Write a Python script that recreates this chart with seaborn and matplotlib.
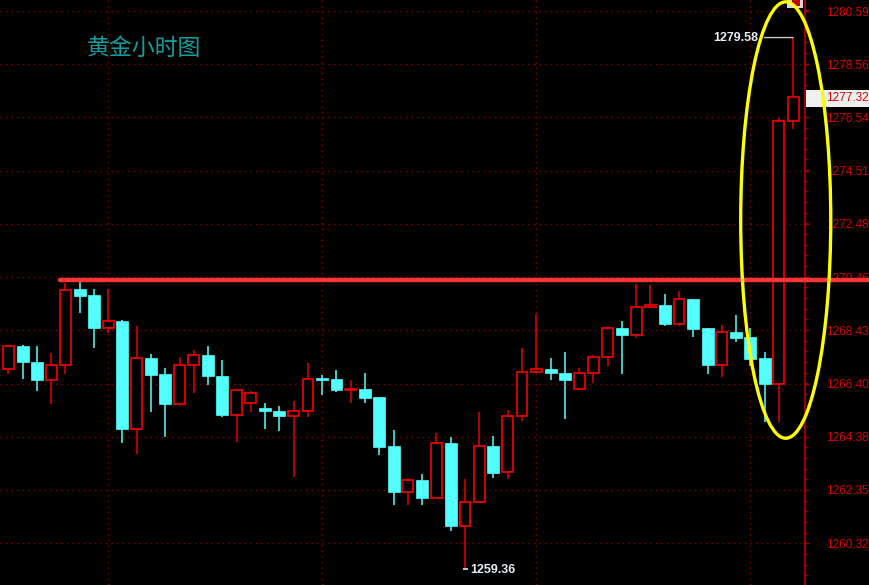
import matplotlib
matplotlib.use('Agg')
import matplotlib.pyplot as plt
from matplotlib.patches import Ellipse, Rectangle
from matplotlib.ticker import AutoMinorLocator
import seaborn as sns
import numpy as np

# hourly gold candles
opens = [1266.97, 1267.83, 1267.24, 1266.55, 1267.11, 1269.99, 1269.76, 1268.53,
         1268.78, 1264.66, 1267.39, 1266.78, 1265.64, 1267.11, 1267.49, 1266.70,
         1265.19, 1265.68, 1265.46, 1265.35, 1265.16, 1265.34, 1266.60, 1266.59,
         1266.17, 1266.18, 1265.89, 1264.03, 1262.29, 1262.73, 1262.05, 1264.15,
         1260.96, 1261.88, 1264.03, 1263.02, 1265.17, 1266.84, 1266.94, 1266.82,
         1266.21, 1266.80, 1267.41, 1268.51, 1268.26, 1269.33, 1269.41, 1268.68,
         1269.61, 1268.51, 1267.11, 1268.36, 1268.19, 1267.39, 1266.40, 1276.42]
highs = [1267.83, 1267.88, 1267.83, 1267.58, 1270.25, 1270.30, 1269.99, 1269.99,
         1268.84, 1268.59, 1267.54, 1267.01, 1267.43, 1267.67, 1267.83, 1267.29,
         1266.17, 1266.12, 1265.65, 1265.55, 1265.72, 1267.20, 1266.72, 1266.91,
         1266.53, 1266.79, 1265.89, 1264.64, 1262.79, 1262.95, 1264.50, 1264.37,
         1262.76, 1265.32, 1264.41, 1265.38, 1267.77, 1269.06, 1267.39, 1267.62,
         1267.01, 1267.50, 1268.54, 1268.78, 1270.18, 1270.14, 1269.83, 1269.91,
         1269.64, 1268.51, 1268.63, 1269.01, 1268.53, 1267.62, 1276.51, 1279.58]
lows = [1266.75, 1266.56, 1266.12, 1265.61, 1266.75, 1269.10, 1267.77, 1268.34,
        1264.13, 1263.71, 1265.30, 1264.35, 1265.53, 1266.06, 1266.35, 1265.14,
        1264.19, 1265.32, 1264.69, 1264.60, 1262.83, 1265.14, 1265.97, 1266.08,
        1265.68, 1265.68, 1263.67, 1261.78, 1261.78, 1261.78, 1262.05, 1260.77,
        1259.36, 1261.84, 1262.80, 1262.76, 1264.98, 1266.84, 1266.54, 1265.07,
        1266.21, 1266.44, 1267.07, 1266.75, 1268.15, 1269.33, 1268.59, 1268.59,
        1268.19, 1266.75, 1266.65, 1268.00, 1267.07, 1264.92, 1264.94, 1276.11]
closes = [1267.83, 1267.22, 1266.54, 1267.11, 1269.96, 1269.73, 1268.53, 1268.77,
          1264.66, 1267.39, 1266.72, 1265.64, 1267.11, 1267.49, 1266.69, 1265.19,
          1266.17, 1266.06, 1265.34, 1265.16, 1265.34, 1266.59, 1266.54, 1266.16,
          1266.19, 1265.87, 1264.00, 1262.28, 1262.73, 1262.05, 1264.14, 1260.96,
          1261.88, 1264.03, 1262.99, 1265.17, 1266.86, 1266.94, 1266.79, 1266.54,
          1266.82, 1267.43, 1268.51, 1268.26, 1269.33, 1269.41, 1268.68, 1269.61,
          1268.49, 1267.10, 1268.36, 1268.15, 1267.35, 1266.37, 1276.41, 1277.32]

price_ticks = [1260.32, 1262.35, 1264.38, 1266.40, 1268.43, 1270.46,
               1272.48, 1274.51, 1276.54, 1278.56, 1280.59]
time_grid = [7, 22, 37, 52]
title_text = '黄金小时图'
resistance = 1270.33
last_price = 1277.32
high_label = 1279.58
low_label = 1259.36

UP = '#e60000'
DOWN = '#54ffff'
GRID = '#8c0000'

sns.set_theme(style='dark', rc={'axes.facecolor': 'black', 'figure.facecolor': 'black'})
plt.rcParams['font.family'] = ['Noto Sans CJK SC', 'DejaVu Sans']

fig = plt.figure(figsize=(8.7, 5.85), dpi=100, facecolor='black')
ax = fig.add_axes([0, 0, 805 / 870, 1])
ax.set_facecolor('black')

o = np.array(opens)
c = np.array(closes)
h = np.array(highs)
l = np.array(lows)
x = np.arange(len(o))
up = c >= o
dn = ~up

# wicks
ax.vlines(x[up], l[up], h[up], colors=UP, lw=1.1, zorder=2)
ax.vlines(x[dn], l[dn], h[dn], colors=DOWN, lw=1.1, zorder=2)

# bodies: red hollow for rising, cyan filled for falling
ax.bar(x[up], np.maximum(c[up] - o[up], 0.02), bottom=o[up], width=0.76,
       facecolor='black', edgecolor=UP, linewidth=1.3, zorder=3)
ax.bar(x[dn], np.maximum(o[dn] - c[dn], 0.05), bottom=c[dn], width=0.84,
       color=DOWN, edgecolor=DOWN, linewidth=0.5, zorder=3)

ax.set_xlim(-0.58, 55.83)
ax.set_ylim(1258.73, 1281.01)

# grid
ax.set_xticks(time_grid)
ax.set_yticks(price_ticks)
ax.set_yticklabels([f'{v:.2f}' for v in price_ticks])
ax.yaxis.set_minor_locator(AutoMinorLocator(5))
ax.grid(True, which='major', color=GRID, linestyle=(0, (1, 3)), lw=1)
ax.tick_params(axis='x', length=0, labelbottom=False)
ax.yaxis.tick_right()
ax.tick_params(axis='y', which='major', colors='#a00000', labelcolor='#d80000',
               length=3, width=1, pad=12, labelsize=8.5, labelfontfamily='Liberation Sans')
ax.tick_params(axis='y', which='minor', colors='#a00000', length=2, width=0.8)
for s in ['top', 'left', 'bottom']:
    ax.spines[s].set_visible(False)
ax.spines['right'].set_color('#a00000')
ax.spines['right'].set_linewidth(1.4)

# resistance line
ax.axhline(resistance, xmin=60 / 805, xmax=870 / 805, color='#ff3535', lw=3.2,
           clip_on=False, zorder=5)

# last price box
ytr = ax.get_yaxis_transform()
ax.add_patch(Rectangle((1.0 + 1 / 805, last_price - 0.39), 65 / 805, 0.66, transform=ytr,
                       facecolor='#eef2ee', edgecolor='none', clip_on=False, zorder=6))
ax.text(1.0 + 21 / 805, last_price - 0.05, f'{last_price:.2f}', transform=ytr,
        ha='left', va='center', color='#e00000', fontsize=8.5, family='Liberation Sans',
        clip_on=False, zorder=7)

# high / low labels
ax.annotate(f'{high_label:.2f}', xy=(55, high_label), xytext=(-25, 0),
            textcoords='offset points', ha='right', va='center', color='#e6eef6',
            fontsize=9, fontweight='bold', family='Liberation Sans',
            arrowprops=dict(arrowstyle='-', color='#c8c8c8', lw=1, shrinkA=2, shrinkB=0))
ax.annotate(f'{low_label:.2f}', xy=(32, low_label), xytext=(4, -1),
            textcoords='offset points', ha='left', va='center', color='#e6eef6',
            fontsize=9, fontweight='bold', family='Liberation Sans')
ax.hlines(low_label - 0.02, 31.85, 32.2, colors='#e6eef6', lw=1.2, zorder=4)

# title
ax.text(87 / 805, 1 - 48 / 585, title_text, transform=ax.transAxes, ha='left',
        va='center', color='#119e9e', fontsize=16.5, family='Noto Sans CJK SC')

# small marker icon at the top right
ax.add_patch(Rectangle((787 / 805, 1 - 8 / 585), 16 / 805, 8 / 585, transform=ax.transAxes,
                       facecolor='#d8d8d8', edgecolor='none', clip_on=False, zorder=6))
ax.add_patch(Rectangle((792 / 805, 1 - 6 / 585), 8 / 805, 6 / 585, transform=ax.transAxes,
                       facecolor='#c00000', edgecolor='none', clip_on=False, zorder=6))

# highlight ellipse
ax.add_patch(Ellipse((54.48, 1272.63), width=6.31, height=16.62, fill=False,
                     edgecolor='#ffff00', lw=2.4, clip_on=False, zorder=8))

fig.savefig('out.png', dpi=100, facecolor='black')
